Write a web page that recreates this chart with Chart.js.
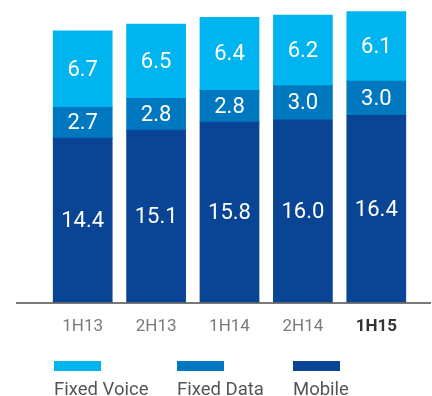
<!DOCTYPE html>
<html>
<head>
<meta charset="utf-8">
<script src="https://cdn.jsdelivr.net/npm/chart.js@4"></script>
<style>
  html, body { margin: 0; padding: 0; background: #ffffff; }
  canvas { display: block; }
</style>
</head>
<body>
<canvas id="c" width="432" height="396"></canvas>
<script>
const categories = ['1H13', '2H13', '1H14', '2H14', '1H15'];
const mobile     = [14.4, 15.1, 15.8, 16.0, 16.4];
const fixedData  = [2.7, 2.8, 2.8, 3.0, 3.0];
const fixedVoice = [6.7, 6.5, 6.4, 6.2, 6.1];
const seriesNames = ['Mobile', 'Fixed Data', 'Fixed Voice'];
const highlightCategory = '1H15';
const yMax = 26;

const colors = ['#0a4494', '#0078bf', '#00b5ef'];
const FONT = 'Roboto, "Open Sans", sans-serif';

const valueLabels = {
  id: 'valueLabels',
  afterDatasetsDraw(chart) {
    const ctx = chart.ctx;
    ctx.save();
    ctx.fillStyle = '#ffffff';
    ctx.font = '22px ' + FONT;
    ctx.textAlign = 'center';
    ctx.textBaseline = 'middle';
    chart.data.datasets.forEach((ds, i) => {
      const meta = chart.getDatasetMeta(i);
      meta.data.forEach((bar, j) => {
        const cy = (bar.y + bar.base) / 2;
        ctx.fillText(ds.data[j].toFixed(1), bar.x, cy + 1);
      });
    });
    const y0 = chart.scales.y.getPixelForValue(0);
    ctx.strokeStyle = '#4d4d4d';
    ctx.lineWidth = 1.5;
    ctx.beginPath();
    ctx.moveTo(16, y0 + 0.5);
    ctx.lineTo(431, y0 + 0.5);
    ctx.stroke();
    ctx.restore();
  }
};

const bottomLegend = {
  id: 'bottomLegend',
  afterDraw(chart) {
    const ctx = chart.ctx;
    const xs = [54, 177, 293];
    const order = [2, 1, 0];
    ctx.save();
    ctx.font = '18.5px ' + FONT;
    ctx.textAlign = 'left';
    ctx.textBaseline = 'alphabetic';
    order.forEach((di, k) => {
      const ds = chart.data.datasets[di];
      ctx.fillStyle = ds.backgroundColor;
      ctx.fillRect(xs[k], 361, 47, 10);
      ctx.fillStyle = '#555555';
      ctx.fillText(ds.label, xs[k], 395);
    });
    ctx.restore();
  }
};

new Chart(document.getElementById('c'), {
  type: 'bar',
  data: {
    labels: categories,
    datasets: [
      { label: seriesNames[0], data: mobile, backgroundColor: colors[0] },
      { label: seriesNames[1], data: fixedData, backgroundColor: colors[1] },
      { label: seriesNames[2], data: fixedVoice, backgroundColor: colors[2] }
    ]
  },
  options: {
    responsive: false,
    animation: false,
    devicePixelRatio: 1,
    layout: { padding: { left: 46, right: 19, top: 6, bottom: 45 } },
    datasets: { bar: { barPercentage: 0.8, categoryPercentage: 1.0, borderWidth: 0, inflateAmount: 0.5 } },
    plugins: { legend: { display: false }, tooltip: { enabled: false } },
    scales: {
      x: {
        stacked: true,
        grid: { display: false, drawTicks: false },
        border: { display: false },
        ticks: {
          padding: 14,
          font: (c) => ({ family: FONT, size: 17, weight: categories[c.index] === highlightCategory ? 'bold' : 'normal' }),
          color: (c) => categories[c.index] === highlightCategory ? '#333333' : '#7a7a7a'
        }
      },
      y: {
        stacked: true,
        display: false,
        min: 0,
        max: yMax
      }
    }
  },
  plugins: [valueLabels, bottomLegend]
});
</script>
</body>
</html>
